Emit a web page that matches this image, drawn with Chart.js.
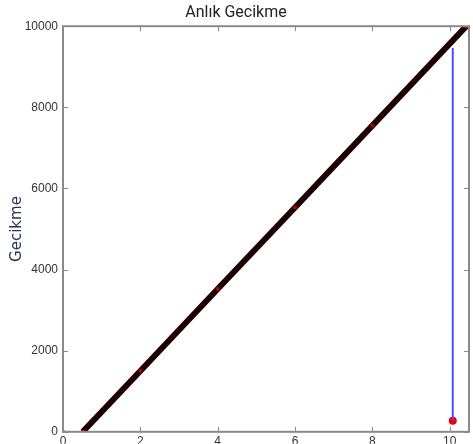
<!DOCTYPE html>
<html>
<head>
<meta charset="utf-8">
<script src="https://cdn.jsdelivr.net/npm/chart.js@4.4.1/dist/chart.umd.min.js"></script>
<style>
  html, body { margin: 0; padding: 0; background: #ffffff; }
  #wrap { width: 473px; height: 444px; }
</style>
</head>
<body>
<div id="wrap"><canvas id="grafico"></canvas></div>
<script>
// datos
const lineaX = [0.51, 2, 4, 6, 8, 10.43];
const lineaY = [0, 1500, 3520, 5530, 7550, 10000];
const verticalX = [10.08, 10.08];
const verticalY = [270, 9460];
const puntosX = [0, 10.08];
const puntosY = [0, 270];
const ticksX = [0, 2, 4, 6, 8, 10];
const ticksY = [0, 2000, 4000, 6000, 8000, 10000];

const toXY = (xs, ys) => xs.map((x, i) => ({ x: x, y: ys[i] }));

// marco y ticks hacia adentro (estilo matplotlib)
const marco = {
  id: "marco",
  afterDraw(chart) {
    const { ctx, chartArea: a, scales } = chart;
    ctx.save();
    ctx.strokeStyle = "#8a8a8a";
    ctx.lineWidth = 2;
    ctx.strokeRect(a.left, a.top, a.right - a.left, a.bottom - a.top);
    ctx.lineWidth = 1;
    ctx.beginPath();
    ticksX.forEach(v => {
      const px = Math.round(scales.x.getPixelForValue(v)) + 0.5;
      ctx.moveTo(px, a.bottom); ctx.lineTo(px, a.bottom - 5);
      ctx.moveTo(px, a.top); ctx.lineTo(px, a.top + 5);
    });
    ticksY.forEach(v => {
      const py = Math.round(scales.y.getPixelForValue(v)) + 0.5;
      ctx.moveTo(a.left, py); ctx.lineTo(a.left + 5, py);
      ctx.moveTo(a.right, py); ctx.lineTo(a.right - 5, py);
    });
    ctx.stroke();
    ctx.restore();
  }
};

new Chart(document.getElementById("grafico"), {
  type: "scatter",
  data: {
    datasets: [
      {
        data: toXY(verticalX, verticalY),
        showLine: true,
        borderColor: "#4d4dff",
        borderWidth: 2,
        pointRadius: 0
      },
      {
        data: toXY(lineaX, lineaY),
        showLine: true,
        borderColor: "#1c0000",
        borderWidth: 6,
        pointRadius: 2,
        pointBackgroundColor: "#b00000",
        pointBorderWidth: 0
      },
      {
        data: toXY(puntosX, puntosY),
        showLine: false,
        pointRadius: [2, 4],
        pointBackgroundColor: "#ee0000",
        pointBorderWidth: 0
      }
    ]
  },
  plugins: [marco],
  options: {
    responsive: true,
    maintainAspectRatio: false,
    animation: false,
    layout: { padding: { left: 0, right: 1, top: 0, bottom: 0 } },
    plugins: {
      legend: { display: false },
      tooltip: { enabled: false },
      title: {
        display: true,
        text: "Anlık Gecikme",
        color: "#222222",
        font: { family: "Roboto", size: 16, weight: "normal" },
        padding: { top: 3, bottom: 4 }
      }
    },
    scales: {
      x: {
        type: "linear",
        min: 0,
        max: 10.5,
        afterBuildTicks: s => { s.ticks = ticksX.map(v => ({ value: v })); },
        afterFit: s => { s.height = 12; },
        grid: { display: false, drawTicks: false },
        border: { display: false },
        ticks: {
          padding: 3,
          color: "#333333",
          font: { family: "Liberation Sans", size: 12 },
          callback: v => String(v)
        }
      },
      y: {
        type: "linear",
        min: 0,
        max: 10000,
        afterBuildTicks: s => { s.ticks = ticksY.map(v => ({ value: v })); },
        afterFit: s => { s.width = 63; },
        grid: { display: false, drawTicks: false },
        border: { display: false },
        ticks: {
          padding: 5,
          color: "#333333",
          font: { family: "Liberation Sans", size: 12 },
          callback: v => String(v)
        },
        title: {
          display: true,
          text: "Gecikme",
          color: "#2b3550",
          font: { family: "DejaVu Sans", size: 15 },
          padding: { top: 8, bottom: 0 }
        }
      }
    }
  }
});
</script>
</body>
</html>
